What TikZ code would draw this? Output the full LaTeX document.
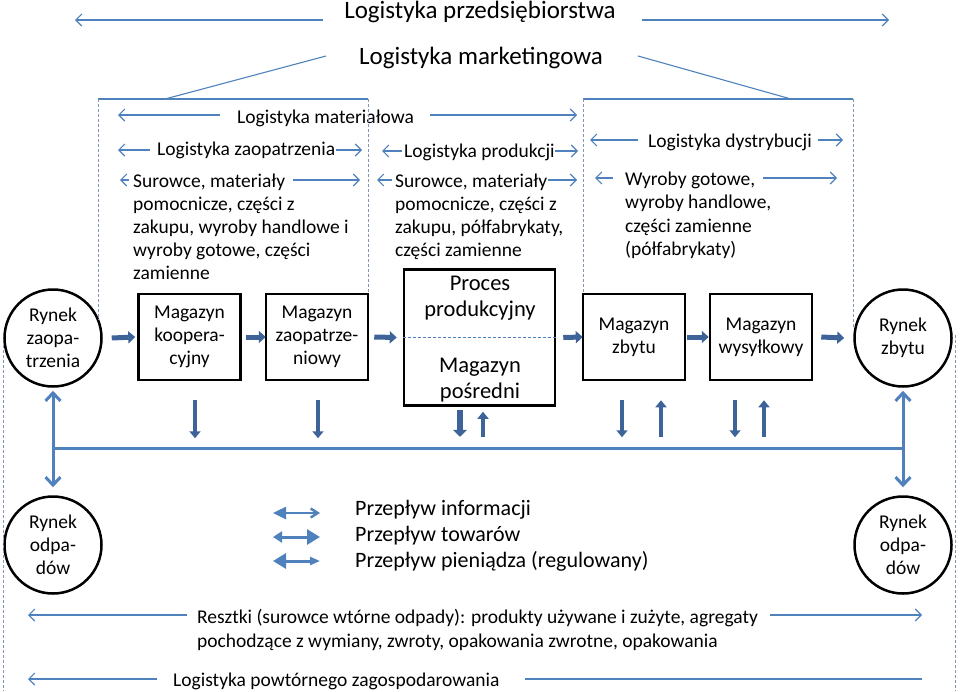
\documentclass[tikz,border=0pt]{standalone}
\usepackage{fontspec}
\setmainfont{Carlito}
\usetikzlibrary{arrows.meta,calc}
\definecolor{lb}{HTML}{4F81BD}
\definecolor{gb}{HTML}{3D6398}
\definecolor{dg}{HTML}{8497B0}
\begin{document}
\begin{tikzpicture}[x=1pt,y=-1pt,
  thinarr/.style={draw=lb, line width=1.1pt, -{Straight Barb[length=6pt,width=12pt]}},
  thinline/.style={draw=lb, line width=1.1pt},
  dashln/.style={draw=dg, line width=0.9pt, dash pattern=on 3pt off 2pt},
  box/.style={draw, line width=2.5pt, rectangle, inner sep=0pt, align=center, font=\fontsize{19.5}{23}\selectfont},
  mkt/.style={draw, line width=2.5pt, circle, minimum size=97pt, inner sep=0pt, align=center, font=\fontsize{19.5}{23}\selectfont},
  txt/.style={inner sep=0pt, anchor=base west, font=\fontsize{19.5}{23}\selectfont},
  goods/.style={draw=gb, line width=5pt, -{Triangle[length=7pt,width=12pt]}},
  goodsv/.style={draw=gb, line width=4pt, -{Triangle[length=7pt,width=11pt]}},
  goodsw/.style={draw=gb, line width=6.5pt, -{Triangle[length=7pt,width=14pt]}},
  info/.style={draw=lb, line width=3pt},
  ihead/.style={draw=lb, line width=3pt, {Straight Barb[length=8pt,width=15pt]}-{Straight Barb[length=8pt,width=15pt]}},
]
\useasboundingbox (0,0) rectangle (960,691);

% ---------- titles ----------
\node[inner sep=0pt, anchor=base, font=\fontsize{25}{30}\selectfont] (tp) at (480,18) {Logistyka przedsiębiorstwa};
\node[inner sep=0pt, anchor=base, font=\fontsize{25}{30}\selectfont] (tm) at (481,64) {Logistyka marketingowa};
\node[txt] (lmat) at (237,123) {Logistyka materiałowa};
\node[txt] (lzao) at (157,155) {Logistyka zaopatrzenia};
\node[txt] (lpro) at (404,157) {Logistyka produkcji};
\node[txt] (ldys) at (648,147) {Logistyka dystrybucji};

% ---------- text blocks ----------
\foreach \t [count=\i] in {{Surowce, materiały},{pomocnicze, części z},{zakupu, wyroby handlowe i},{wyroby gotowe, części},{zamienne}}
  \node[txt] (sa\i) at (133,{187+23.2*(\i-1)}) {\t};
\foreach \t [count=\i] in {{Surowce, materiały},{pomocnicze, części z},{zakupu, półfabrykaty,},{części zamienne}}
  \node[txt] (sb\i) at (395,{187+23.2*(\i-1)}) {\t};
\foreach \t [count=\i] in {{Wyroby gotowe,},{wyroby handlowe,},{części zamienne},{(półfabrykaty)}}
  \node[txt] (sc\i) at (625,{185+23.5*(\i-1)}) {\t};

% ---------- thin arrows ----------
\foreach \n/\xa/\xb/\yy in {p1/323/75/20, p2/642/889/20, m1/220/118/115, m2/430/577/115,
   z1/150/118/150, z2/336/362/150, r1/402/382/151, r2/555/578/151,
   d1/638/590/140, d2/818/843/140, s1/129/120/180, s2/293/360/180,
   s3/392/377/180, s4/548/577/180, w1/613/595/178, w2/763/837/178,
   b1/187/28/615, b2/770/922/615, c1/157/28/679}
{
  \coordinate (\n s) at (\xa,\yy);
  \coordinate (\n e) at (\xb,\yy);
  \draw[thinarr] (\n s) -- (\n e);
}
\coordinate (c2s) at (525,679);
\coordinate (c2e) at (922,679);
\draw[thinline] (c2s) -- (c2e);

% ---------- frames ----------
\coordinate (fl1) at (98,99);
\coordinate (fl2) at (368,99);
\coordinate (fr1) at (583,99);
\coordinate (fr2) at (853,99);
\coordinate (dl) at (165,99);
\coordinate (dlt) at (326,56);
\coordinate (drt) at (638,56);
\coordinate (dr) at (791,99);
\draw[thinline] (fl1) -- (fl2);
\draw[thinline] (fr1) -- (fr2);
\draw[thinline] (dl) -- (dlt);
\draw[thinline] (drt) -- (dr);

% ---------- boxes ----------
\node[box, minimum width=102pt, minimum height=86pt] (mk) at (189.5,337) {Magazyn\\koopera-\\cyjny};
\node[box, minimum width=102pt, minimum height=86pt] (mz) at (317,337) {Magazyn\\zaopatrze-\\niowy};
\node[box, minimum width=151pt, minimum height=136pt] (pp) at (479.5,337.5) {};
\node[box, minimum width=102pt, minimum height=86pt] (zb) at (634,337) {Magazyn\\zbytu};
\node[box, minimum width=102pt, minimum height=86pt] (ws) at (761,337) {Magazyn\\wysyłkowy};
\node[mkt] (rz) at (53,338) {Rynek\\zaopa-\\trzenia};
\node[mkt] (rzb) at (903,338) {Rynek\\zbytu};
\node[mkt] (ro1) at (53,545) {Rynek\\odpa-\\dów};
\node[mkt] (ro2) at (903,545) {Rynek\\odpa-\\dów};
\node[inner sep=0pt, align=center, font=\fontsize{22.5}{26}\selectfont] (ppt) at (480,298) {Proces\\produkcyjny};
\node[inner sep=0pt, align=center, font=\fontsize{22.5}{26}\selectfont] (mpt) at (480,380) {Magazyn\\pośredni};
\draw[draw=lb, line width=0.8pt, dash pattern=on 3pt off 2pt] (pp.west) -- (pp.east);

% dashed verticals
\coordinate (ol1) at (3,345);
\coordinate (ol2) at (3,691);
\coordinate (or1) at (955,335);
\coordinate (or2) at (955,691);
\coordinate (v1e) at (98,320);
\coordinate (v4e) at (853,328);
\draw[dashln] (fl1) -- (v1e);
\draw[dashln] (fl2) -- (fl2 |- mz.north);
\draw[dashln] (fr1) -- (fr1 |- zb.north);
\draw[dashln] (fr2) -- (v4e);
\draw[dashln] (ol1) -- (ol2);
\draw[dashln] (or1) -- (or2);

% ---------- goods arrows ----------
\draw[goods] ([xshift=9pt]rz.east) -- ([xshift=-2pt]mk.west);
\draw[goods] ([xshift=4pt]mk.east) -- ([xshift=1pt]mz.west);
\draw[goods] ([xshift=5pt]mz.east) -- ([xshift=-6pt]pp.west);
\draw[goods] ([xshift=7pt]pp.east) -- ([xshift=1pt]zb.west);
\draw[goods] ([xshift=1pt]zb.east) -- ([xshift=0pt]ws.west);
\draw[goods] ([xshift=8pt]ws.east) -- ([xshift=-9pt]rzb.west);

\draw[goodsv] ([xshift=5.5pt,yshift=-19pt]mk.south) -- ([xshift=5.5pt,yshift=-57pt]mk.south);
\draw[goodsv] ([xshift=1pt,yshift=-19pt]mz.south) -- ([xshift=1pt,yshift=-57pt]mz.south);
\draw[goodsw] ([xshift=-19.5pt,yshift=-3.5pt]pp.south) -- ([xshift=-19.5pt,yshift=-30pt]pp.south);
\draw[goodsv] ([xshift=3.5pt,yshift=-30pt]pp.south) -- ([xshift=3.5pt,yshift=-5pt]pp.south);
\draw[goodsv] ([xshift=-12pt,yshift=-19pt]zb.south) -- ([xshift=-12pt,yshift=-56pt]zb.south);
\draw[goodsv] ([xshift=27pt,yshift=-56pt]zb.south) -- ([xshift=27pt,yshift=-19pt]zb.south);
\draw[goodsv] ([xshift=-26pt,yshift=-19pt]ws.south) -- ([xshift=-26pt,yshift=-56pt]ws.south);
\draw[goodsv] ([xshift=3pt,yshift=-56pt]ws.south) -- ([xshift=3pt,yshift=-19pt]ws.south);

% ---------- information loop ----------
\coordinate (hl) at (0,448);
\draw[ihead] ([yshift=-3pt]rz.south) -- ([yshift=8pt]ro1.north);
\draw[ihead] ([yshift=-3pt]rzb.south) -- ([yshift=8pt]ro2.north);
\draw[info] (rz.south |- hl) -- (rzb.south |- hl);

% ---------- legend ----------
\coordinate (la1) at (273,513);
\coordinate (la2) at (320,513);
\coordinate (lb1) at (273,537);
\coordinate (lb2) at (320,537);
\coordinate (lc1) at (273,561);
\coordinate (lc2) at (320,561);
\draw[draw=lb, line width=2.5pt, {Triangle[length=13pt,width=12pt]}-{Straight Barb[length=7pt,width=9pt]}] (la1) -- (la2);
\draw[draw=lb, line width=3pt, {Triangle[length=9pt,width=11pt]}-{Triangle[length=13pt,width=15pt]}] (lb1) -- (lb2);
\draw[draw=lb, line width=3pt, {Triangle[length=13pt,width=15pt]}-{Triangle[length=10pt,width=8pt]}] (lc1) -- (lc2);
\node[txt, font=\fontsize{22}{26}\selectfont] (lg1) at (355,515) {Przepływ informacji};
\node[txt, font=\fontsize{22}{26}\selectfont] (lg2) at (355,541) {Przepływ towarów};
\node[txt, font=\fontsize{22}{26}\selectfont] (lg3) at (355,567) {Przepływ pieniądza (regulowany)};

% ---------- bottom ----------
\node[txt] (re1) at (197,623) {Resztki (surowce wtórne odpady): produkty używane i zużyte, agregaty};
\node[txt] (re2) at (197,647) {pochodzące z wymiany, zwroty, opakowania zwrotne, opakowania};
\node[txt] (lpz) at (173,686) {Logistyka powtórnego zagospodarowania};
\end{tikzpicture}
\end{document}
